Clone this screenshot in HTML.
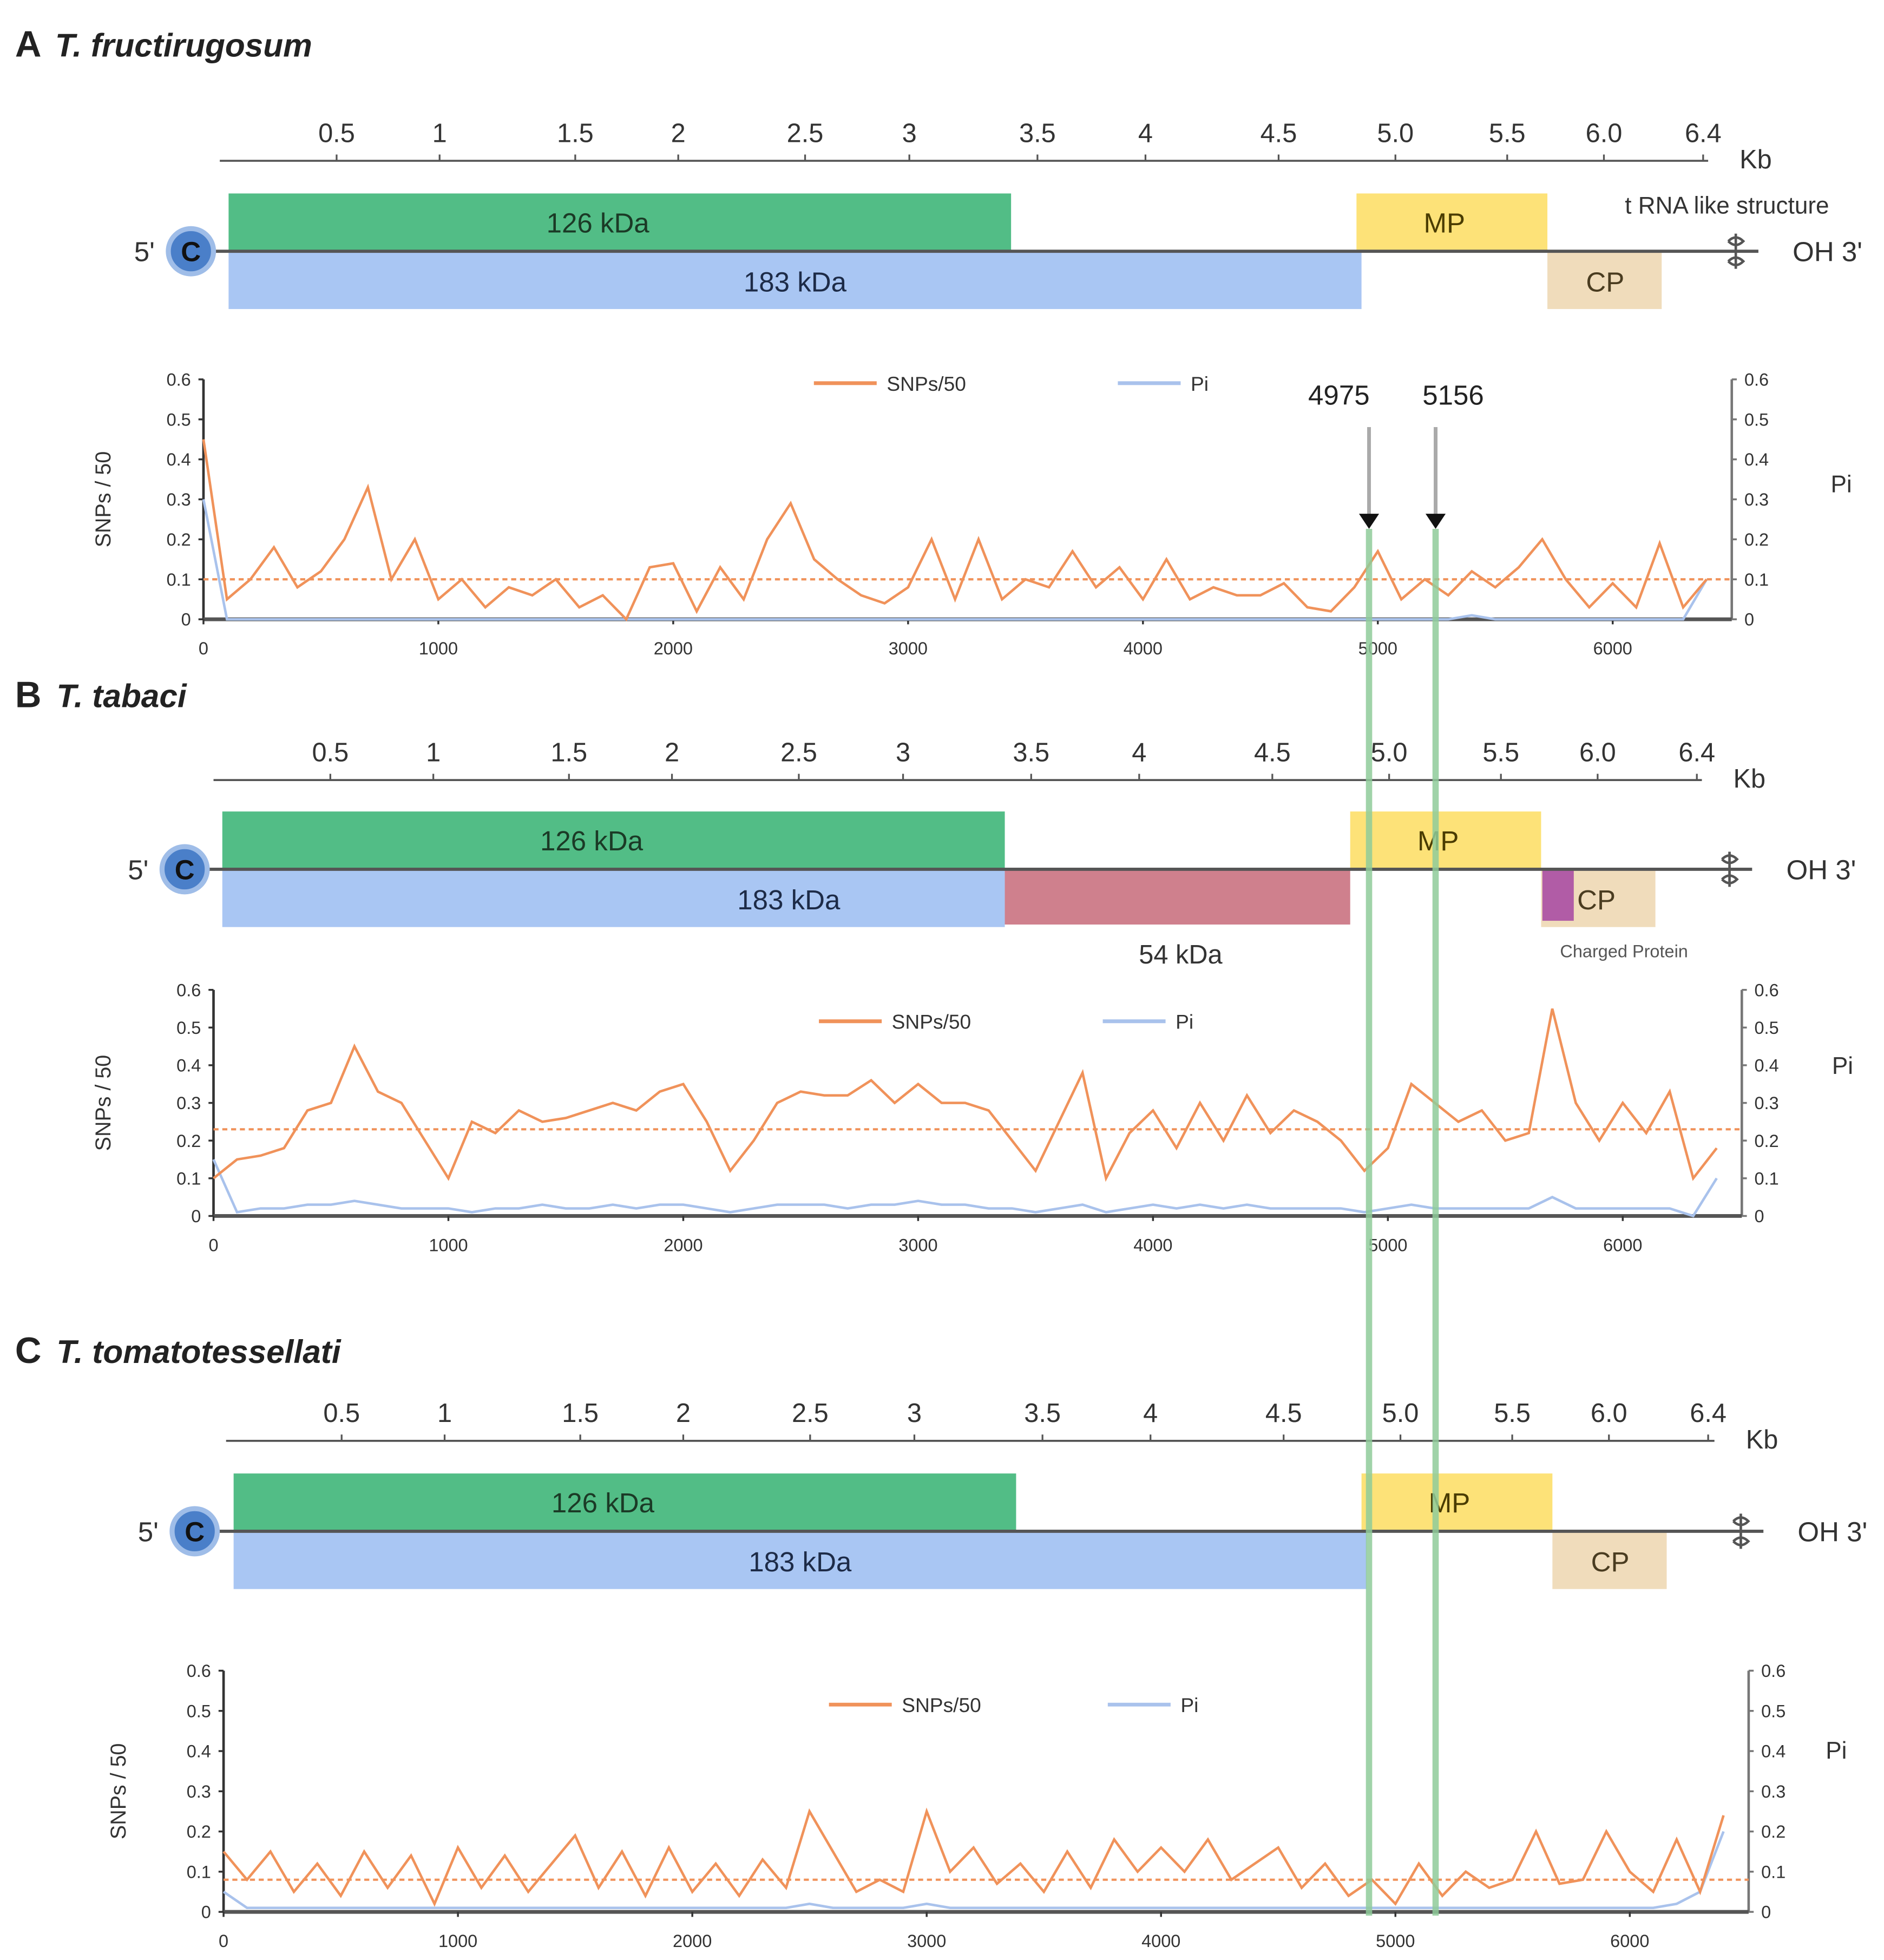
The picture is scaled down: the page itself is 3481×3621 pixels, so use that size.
<!DOCTYPE html>
<html><head><meta charset="utf-8"><style>
html,body{margin:0;padding:0;background:#fff}
svg{display:block}
text{font-family:"Liberation Sans",sans-serif}
</style></head><body>
<svg id="fig" xmlns="http://www.w3.org/2000/svg" width="3481" height="3621" viewBox="0 0 1500 1560.3"></svg>
<script>
const positions=[0,100,200,300,400,500,600,700,800,900,1000,1100,1200,1300,1400,1500,1600,1700,1800,1900,2000,2100,2200,2300,2400,2500,2600,2700,2800,2900,3000,3100,3200,3300,3400,3500,3600,3700,3800,3900,4000,4100,4200,4300,4400,4500,4600,4700,4800,4900,5000,5100,5200,5300,5400,5500,5600,5700,5800,5900,6000,6100,6200,6300,6400];
const snpA=[0.45,0.05,0.1,0.18,0.08,0.12,0.2,0.33,0.1,0.2,0.05,0.1,0.03,0.08,0.06,0.1,0.03,0.06,0.0,0.13,0.14,0.02,0.13,0.05,0.2,0.29,0.15,0.1,0.06,0.04,0.08,0.2,0.05,0.2,0.05,0.1,0.08,0.17,0.08,0.13,0.05,0.15,0.05,0.08,0.06,0.06,0.09,0.03,0.02,0.08,0.17,0.05,0.1,0.06,0.12,0.08,0.13,0.2,0.1,0.03,0.09,0.03,0.19,0.03,0.1];
const piA=[0.3,0,0,0,0,0,0,0,0,0,0,0,0,0,0,0,0,0,0,0,0,0,0,0,0,0,0,0,0,0,0,0,0,0,0,0,0,0,0,0,0,0,0,0,0,0,0,0,0,0,0,0,0,0,0.01,0,0,0,0,0,0,0,0,0,0.1];
const snpB=[0.1,0.15,0.16,0.18,0.28,0.3,0.45,0.33,0.3,0.2,0.1,0.25,0.22,0.28,0.25,0.26,0.28,0.3,0.28,0.33,0.35,0.25,0.12,0.2,0.3,0.33,0.32,0.32,0.36,0.3,0.35,0.3,0.3,0.28,0.2,0.12,0.25,0.38,0.1,0.22,0.28,0.18,0.3,0.2,0.32,0.22,0.28,0.25,0.2,0.12,0.18,0.35,0.3,0.25,0.28,0.2,0.22,0.55,0.3,0.2,0.3,0.22,0.33,0.1,0.18];
const piB=[0.15,0.01,0.02,0.02,0.03,0.03,0.04,0.03,0.02,0.02,0.02,0.01,0.02,0.02,0.03,0.02,0.02,0.03,0.02,0.03,0.03,0.02,0.01,0.02,0.03,0.03,0.03,0.02,0.03,0.03,0.04,0.03,0.03,0.02,0.02,0.01,0.02,0.03,0.01,0.02,0.03,0.02,0.03,0.02,0.03,0.02,0.02,0.02,0.02,0.01,0.02,0.03,0.02,0.02,0.02,0.02,0.02,0.05,0.02,0.02,0.02,0.02,0.02,0.0,0.1];
const snpC=[0.15,0.08,0.15,0.05,0.12,0.04,0.15,0.06,0.14,0.02,0.16,0.06,0.14,0.05,0.12,0.19,0.06,0.15,0.04,0.16,0.05,0.12,0.04,0.13,0.06,0.25,0.15,0.05,0.08,0.05,0.25,0.1,0.16,0.07,0.12,0.05,0.15,0.06,0.18,0.1,0.16,0.1,0.18,0.08,0.12,0.16,0.06,0.12,0.04,0.08,0.02,0.12,0.04,0.1,0.06,0.08,0.2,0.07,0.08,0.2,0.1,0.05,0.18,0.05,0.24];
const piC=[0.05,0.01,0.01,0.01,0.01,0.01,0.01,0.01,0.01,0.01,0.01,0.01,0.01,0.01,0.01,0.01,0.01,0.01,0.01,0.01,0.01,0.01,0.01,0.01,0.01,0.02,0.01,0.01,0.01,0.01,0.02,0.01,0.01,0.01,0.01,0.01,0.01,0.01,0.01,0.01,0.01,0.01,0.01,0.01,0.01,0.01,0.01,0.01,0.01,0.01,0.01,0.01,0.01,0.01,0.01,0.01,0.01,0.01,0.01,0.01,0.01,0.01,0.02,0.05,0.2];
const meanSnp=[0.1,0.23,0.08];
const kbLabels=["0.5","1","1.5","2","2.5","3","3.5","4","4.5","5.0","5.5","6.0","6.4"];
const xTicks=[0,1000,2000,3000,4000,5000,6000];
const yTicks=[0,0.1,0.2,0.3,0.4,0.5,0.6];
const markers=[4975,5156];

const svg=document.getElementById('fig');
const NS='http://www.w3.org/2000/svg';
function el(tag,attrs,parent,txt){const e=document.createElementNS(NS,tag);for(const k in attrs)e.setAttribute(k,attrs[k]);if(txt!==undefined)e.textContent=txt;(parent||svg).appendChild(e);return e;}
const markerX=v=>1090+(v-4975)*0.2928;

const panels=[
 {letter:'A',name:'T. fructirugosum',ty:35,dx:0,kbY:128,kbL:175,kbR:1360,gY:200,circX:152,
  plot:{x0:162,yTop:302,yBot:493,px1000:187},snp:snpA,pi:piA,mean:meanSnp[0],legY:305,legO:648,legB:890,piLabX:1466,piLabY:392,yTitleX:88},
 {letter:'B',name:'T. tabaci',ty:553,dx:-5,kbY:621,kbL:170,kbR:1355,gY:692,circX:147,
  plot:{x0:170,yTop:788,yBot:968,px1000:187},snp:snpB,pi:piB,mean:meanSnp[1],legY:813,legO:652,legB:878,piLabX:1467,piLabY:855,yTitleX:88},
 {letter:'C',name:'T. tomatotessellati',ty:1075,dx:4,kbY:1147,kbL:180,kbR:1365,gY:1219,circX:155,
  plot:{x0:178,yTop:1330,yBot:1522,px1000:186.6},snp:snpC,pi:piC,mean:meanSnp[2],legY:1357,legO:660,legB:882,piLabX:1462,piLabY:1400,yTitleX:100}
];
const kbPosA=[268,350,458,540,641,724,826,912,1018,1111,1200,1277,1356];

panels.forEach((p,pi)=>{
 const id=p.letter.toLowerCase();
 const g=el('g',{});
 
 
 const t=el('text',{x:12,y:p.ty+10,'font-size':29,'font-weight':'bold',fill:'#222'},g);
 
 
 el('tspan',{},t,p.letter+' ');
 el('tspan',{'font-style':'italic','dx':4,'font-size':26},t,p.name);
 const kb=el('g',{},g);
 
 
 el('line',{x1:p.kbL,x2:p.kbR,y1:p.kbY,y2:p.kbY,stroke:'#555','stroke-width':1.6},kb);
 kbLabels.forEach((l,i)=>{
  const x=kbPosA[i]+p.dx;
  el('line',{x1:x,x2:x,y1:p.kbY,y2:p.kbY-5,stroke:'#555','stroke-width':1.4},kb);
  const tx=el('text',{x:x,y:p.kbY-15,'font-size':21,'text-anchor':'middle',fill:'#333'},kb,l);
  
  
 });
 el('text',{x:p.kbR+25,y:p.kbY+6,'font-size':21,fill:'#333'},kb,'Kb');
 const gm=el('g',{},g);
 
 
 const gy=p.gY;
 const gx=x=>x+p.dx;
 const boxes=[
  {n:'126 kDa',x0:182,x1:805,up:true,c:'#52bd86',tc:'#1b3a26',name:'orf-126kda'},
  {n:'183 kDa',x0:182,x1:pi==1?805:1084,up:false,c:'#a9c6f3',tc:'#1d2b47',name:'orf-183kda'},
  {n:'MP',x0:1080,x1:1232,up:true,c:'#fde278',tc:'#4a3c00',name:'orf-mp'},
  {n:'CP',x0:1232,x1:1323,up:false,c:'#f0dcbb',tc:'#4a3c20',name:'orf-cp'}
 ];
 boxes.forEach(b=>{
  const y=b.up?gy-46:gy+1;
  const r=el('rect',{x:gx(b.x0),y:y,width:b.x1-b.x0,height:45,fill:b.c},gm);
  
  
  let cx=(b.x0+b.x1)/2;
  if(b.n=='183 kDa') cx=(182+1084)/2;
  if(b.n=='126 kDa') cx=476;
  if(b.n=='MP') cx=1150;
  if(b.n=='CP') cx=pi==1?1276:1278;
  el('text',{x:gx(cx),y:y+31,'font-size':22,'text-anchor':'middle',fill:b.tc},gm,b.n);
 });
 if(pi==1){
  const r=el('rect',{x:gx(805),y:gy+1,width:275,height:43,fill:'#cf808d'},gm);
  
  
  el('text',{x:940,y:gy+75,'font-size':21,'text-anchor':'middle',fill:'#333'},gm,'54 kDa');
  const r2=el('rect',{x:gx(1233),y:gy+1,width:25,height:40,fill:'#b15ca6'},gm);
  
  
  el('text',{x:1293,y:gy+70,'font-size':14,'text-anchor':'middle',fill:'#555'},gm,'Charged Protein');
 }
 el('line',{x1:p.circX,x2:gx(1400),y1:gy,y2:gy,stroke:'#555','stroke-width':2.5},gm);
 const sx=gx(1382);
 el('path',{d:`M${sx-6},${gy-8} q6,-6 12,0 q-6,6 -12,0 M${sx-6},${gy+8} q6,6 12,0 q-6,-6 -12,0 M${sx},${gy-14} v28`,fill:'none',stroke:'#555','stroke-width':2},gm);
 el('text',{x:p.circX-37,y:gy+8,'font-size':22,fill:'#333','text-anchor':'middle'},gm,"5'");
 el('circle',{cx:p.circX,cy:gy,r:18,fill:'#4a7fc9',stroke:'#9fbde8','stroke-width':4},gm);
 el('text',{x:p.circX,y:gy+8,'font-size':22,'font-weight':'bold','text-anchor':'middle',fill:'#111'},gm,'C');
 el('text',{x:gx(1455),y:gy+8,'font-size':22,'text-anchor':'middle',fill:'#333'},gm,"OH 3'");
 if(pi==0) el('text',{x:1375,y:gy-30,'font-size':19,'text-anchor':'middle',fill:'#333'},gm,'t RNA like structure');

 const c=el('g',{},g);
 
 
 const P=p.plot;
 const xs=v=>P.x0+v/1000*P.px1000;
 const ys=v=>P.yBot-(v/0.6)*(P.yBot-P.yTop);
 const xR=xs(6400)+20;
 el('line',{x1:P.x0,x2:P.x0,y1:P.yTop,y2:P.yBot,stroke:'#333','stroke-width':2},c);
 el('line',{x1:xR,x2:xR,y1:P.yTop,y2:P.yBot,stroke:'#777','stroke-width':2},c);
 el('line',{x1:P.x0,x2:xR,y1:P.yBot,y2:P.yBot,stroke:'#555','stroke-width':3},c);
 yTicks.forEach(v=>{
  const y=ys(v);
  el('line',{x1:P.x0-4,x2:P.x0,y1:y,y2:y,stroke:'#333','stroke-width':1.5},c);
  el('line',{x1:xR,x2:xR+4,y1:y,y2:y,stroke:'#777','stroke-width':1.5},c);
  const a=el('text',{x:P.x0-10,y:y+5,'font-size':14,'text-anchor':'end',fill:'#333'},c,String(v));
  
  
  const b=el('text',{x:xR+10,y:y+5,'font-size':14,fill:'#333'},c,String(v));
  
  
 });
 xTicks.forEach(v=>{
  const x=xs(v);
  el('line',{x1:x,x2:x,y1:P.yBot,y2:P.yBot+4,stroke:'#333','stroke-width':1.5},c);
  const a=el('text',{x:x,y:P.yBot+28,'font-size':14,'text-anchor':'middle',fill:'#333'},c,String(v));
  
  
 });
 const yt=el('text',{x:0,y:0,'font-size':17,'text-anchor':'middle',fill:'#333',transform:`translate(${p.yTitleX},${(P.yTop+P.yBot)/2}) rotate(-90)`},c,'SNPs / 50');
 
 
 const yt2=el('text',{x:p.piLabX,y:p.piLabY,'font-size':19,'text-anchor':'middle',fill:'#333'},c,'Pi');
 
 
 const m=el('line',{x1:P.x0,x2:xR,y1:ys(p.mean),y2:ys(p.mean),stroke:'#f0925a','stroke-width':1.8,'stroke-dasharray':'4,3'},c);
 
 
 const pp=el('polyline',{points:positions.map((x,i)=>xs(x)+','+ys(p.pi[i])).join(' '),fill:'none',stroke:'#a9c2ec','stroke-width':2},c);
 
 
 const sp=el('polyline',{points:positions.map((x,i)=>xs(x)+','+ys(p.snp[i])).join(' '),fill:'none',stroke:'#f0925a','stroke-width':2},c);
 
 
 const lg=el('g',{},c);
 
 
 el('line',{x1:p.legO,x2:p.legO+50,y1:p.legY,y2:p.legY,stroke:'#f0925a','stroke-width':3},lg);
 el('text',{x:p.legO+58,y:p.legY+6,'font-size':16,fill:'#333'},lg,'SNPs/50');
 el('line',{x1:p.legB,x2:p.legB+50,y1:p.legY,y2:p.legY,stroke:'#a9c2ec','stroke-width':3},lg);
 el('text',{x:p.legB+58,y:p.legY+6,'font-size':16,fill:'#333'},lg,'Pi');
 if(pi==0){
  markers.forEach((mv,i)=>{
   const x=markerX(mv);
   const mg=el('g',{},c);
   
   
   el('text',{x:x+(i?14:-24),y:322,'font-size':22,'text-anchor':'middle',fill:'#222'},mg,String(mv));
   el('line',{x1:x,x2:x,y1:340,y2:410,stroke:'#aaa','stroke-width':3},mg);
   el('path',{d:`M${x-8},${409} h16 l-8,12 z`,fill:'#111'},mg);
  });
 }
});
markers.forEach(mv=>{
 const x=markerX(mv);
 const l=el('rect',{x:x-2.5,y:421,width:5,height:1104,fill:'#8fcb9a',opacity:0.85});
 
 
});
</script>
</body></html>
